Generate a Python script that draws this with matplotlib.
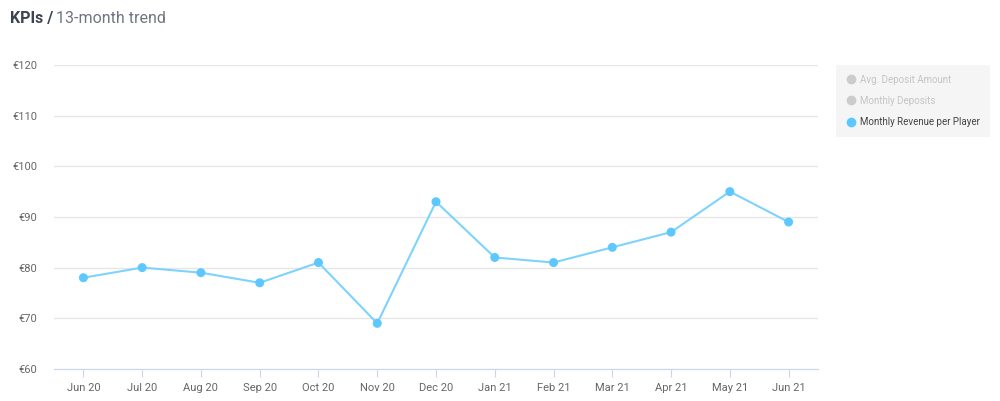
import numpy as np
import matplotlib.pyplot as plt
from matplotlib.lines import Line2D

plt.rcParams['font.family'] = ['Roboto', 'DejaVu Sans']

months = ['Jun 20', 'Jul 20', 'Aug 20', 'Sep 20', 'Oct 20', 'Nov 20', 'Dec 20',
          'Jan 21', 'Feb 21', 'Mar 21', 'Apr 21', 'May 21', 'Jun 21']
revenue = [78, 80, 79, 77, 81, 69, 93, 82, 81, 84, 87, 95, 89]
y_ticks = [60, 70, 80, 90, 100, 110, 120]
legend_names = ['Avg. Deposit Amount', 'Monthly Deposits', 'Monthly Revenue per Player']

fig = plt.figure(figsize=(10, 4.01), dpi=100)
ax = fig.add_axes([0.054, 0.080, 0.764, 0.758])

x = np.arange(len(months))
ax.plot(x, revenue, color='#7dd3fc', lw=1.5, zorder=3)
ax.scatter(x, revenue, s=42, color='#5cc8ff', zorder=4, edgecolors='none')

ax.set_xlim(-0.5, len(months) - 0.5)
ax.set_ylim(60, 120)
ax.set_yticks(y_ticks)
ax.set_yticklabels(['€%d' % v for v in y_ticks])
ax.set_xticks(x)
ax.set_xticklabels(months)
ax.grid(axis='y', color='#e6e6e6', lw=1)
ax.set_axisbelow(True)
for s in ['top', 'right', 'left']:
    ax.spines[s].set_visible(False)
ax.spines['bottom'].set_color('#ccd6eb')
ax.tick_params(axis='y', length=0, labelsize=8, labelcolor='#666666', pad=12)
ax.tick_params(axis='x', length=6, color='#ccd6eb', labelsize=8, labelcolor='#666666', pad=4)

fig.text(0.010, 0.955, 'KPIs /', fontsize=11.5, fontweight='bold', color='#3d4451', va='center')
fig.text(0.056, 0.955, '13-month trend', fontsize=11.5, color='#707580', va='center')

handles = [Line2D([], [], marker='o', ls='none', ms=6, color=c)
           for c in ['#cccccc', '#cccccc', '#5cc8ff']]
leg = fig.legend(handles, legend_names, loc='upper left', bbox_to_anchor=(0.836, 0.838),
                 borderaxespad=0, frameon=True, fancybox=False, fontsize=7.0,
                 handletextpad=0.5, labelspacing=1.15, borderpad=1.0, handlelength=1.0)
leg.get_frame().set_facecolor('#f3f3f3')
leg.get_frame().set_edgecolor('none')
for t, c in zip(leg.get_texts(), ['#c4c4c4', '#c4c4c4', '#444444']):
    t.set_color(c)

fig.savefig('out.png')
